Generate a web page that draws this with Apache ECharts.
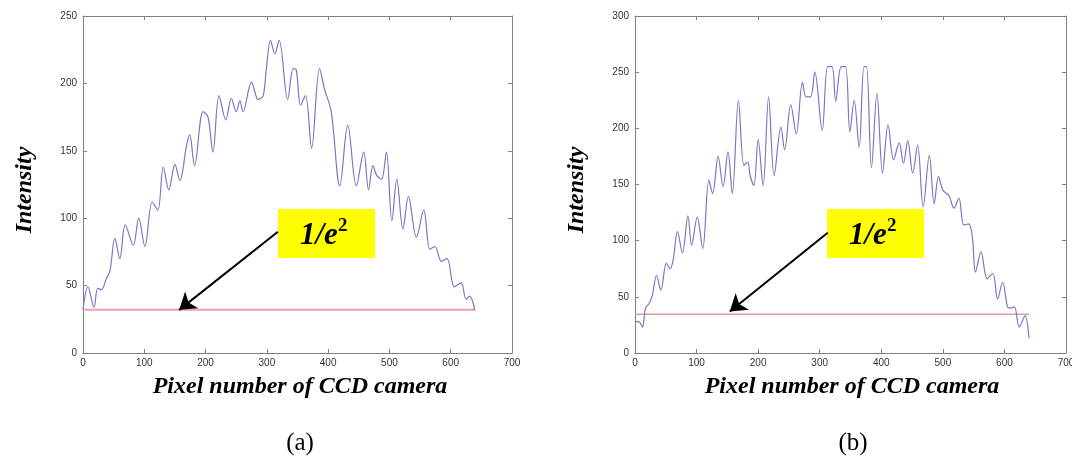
<!DOCTYPE html>
<html>
<head>
<meta charset="utf-8">
<script src="https://cdn.jsdelivr.net/npm/echarts@6/dist/echarts.min.js"></script>
<style>
html, body { margin: 0; padding: 0; background: #fff; }
#chart { width: 1072px; height: 464px; }
</style>
</head>
<body>
<div id="chart"></div>
<script>
// (a) intensity profile
const leftX = [0, 8, 18, 24, 30, 38, 44, 52, 60, 69, 82, 91, 101, 113, 122, 131, 140, 150, 158, 169,
  174, 182, 196, 204, 212, 222, 233, 242, 250, 256, 261, 275, 286, 294, 299, 306, 313, 320, 334, 343,
  348, 355, 363, 373, 386, 394, 405, 419, 432, 446, 458, 466, 473, 479, 487, 495, 504, 512, 522, 531,
  544, 556, 566, 574, 585, 594, 606, 617, 625, 631, 636, 639]
const leftY = [32, 49, 34, 48, 47, 55, 61, 85, 70, 95, 80, 100, 79, 112, 106, 138, 121, 140, 128, 154,
  162, 139, 179, 175, 149, 191, 173, 189, 179, 187, 179, 201, 188, 191, 210, 232, 222, 232, 188, 211,
  210, 184, 191, 152, 211, 196, 179, 124, 169, 124, 149, 121, 139, 132, 129, 149, 98, 129, 92, 116,
  86, 106, 77, 79, 68, 70, 49, 52, 40, 42, 38, 32]

// (b) intensity profile
const rightX = [0, 6, 12, 17, 23, 28, 35, 42, 51, 57, 62, 69, 77, 86, 92, 101, 110, 120, 126, 135,
  143, 151, 158, 168, 177, 183, 187, 193, 200, 208, 217, 226, 237, 243, 253, 262, 272, 278, 285, 292,
  304, 313, 320, 326, 335, 342, 349, 356, 364, 372, 376, 384, 393, 402, 411, 420, 429, 436, 443, 451,
  459, 468, 478, 486, 493, 500, 510, 518, 526, 534, 542, 548, 553, 562, 572, 581, 589, 597, 605, 609,
  616, 624, 632, 634, 640]
const rightY = [28, 28, 23, 40, 44, 51, 69, 56, 80, 75, 83, 108, 89, 122, 96, 121, 93, 154, 142, 175,
  148, 179, 142, 225, 167, 170, 158, 149, 190, 149, 228, 158, 201, 181, 221, 195, 241, 228, 228, 250,
  198, 255, 255, 224, 255, 255, 197, 225, 183, 255, 255, 165, 231, 160, 203, 172, 187, 169, 189, 160,
  185, 130, 176, 133, 157, 145, 140, 129, 138, 114, 115, 103, 72, 90, 66, 71, 48, 63, 41, 40,
  41, 23, 32, 33, 13]

// 1/e^2 levels and their span
const leftLevel = 32
const rightLevel = 34.5
const levelSpan = [0, 640]

// annotation arrows: [tail, head] in data units
const leftArrow = [[318, 90], [157, 32]]
const rightArrow = [[313, 107], [154, 37]]

const xTicks = { min: 0, max: 700, interval: 100 }
const leftTicks = { min: 0, max: 250, interval: 50 }
const rightTicks = { min: 0, max: 300, interval: 50 }

const chart = echarts.init(document.getElementById('chart'))

const axisColor = '#808080'
const labelStyle = { color: '#333', fontSize: 10, fontFamily: 'Liberation Sans' }
const serif = '"Liberation Serif", "DejaVu Serif", serif'

const makeX = (grid, ticks, top) => ({
  type: 'value',
  gridIndex: grid,
  position: top ? 'top' : 'bottom',
  ...ticks,
  axisLine: { show: true, onZero: false, lineStyle: { color: axisColor } },
  axisTick: { show: true, inside: true, length: 4, lineStyle: { color: axisColor } },
  axisLabel: { show: !top, margin: 5, ...labelStyle },
  splitLine: { show: false },
})

const makeY = (grid, ticks, right) => ({
  type: 'value',
  gridIndex: grid,
  position: right ? 'right' : 'left',
  ...ticks,
  axisLine: { show: true, onZero: false, lineStyle: { color: axisColor } },
  axisTick: { show: true, inside: true, length: 4, lineStyle: { color: axisColor } },
  axisLabel: { show: !right, margin: 6, ...labelStyle },
  splitLine: { show: false },
})

const zip = (xs, ys) => xs.map((x, i) => [x, ys[i]])

const arrowLine = (pts) => ({
  silent: true,
  symbol: ['none', 'arrow'],
  symbolSize: 16,
  lineStyle: { color: '#000', width: 2, type: 'solid' },
  label: { show: false },
  data: [[{ coord: pts[0] }, { coord: pts[1] }]],
})

const titleText = (x, y, text, rotation) => ({
  type: 'text',
  x, y, rotation: rotation || 0,
  style: {
    text,
    font: 'italic bold 24px ' + serif,
    fill: '#000',
    align: 'center',
    verticalAlign: 'middle',
  },
})

const yellowBox = (left) => [
  { type: 'rect', shape: { x: left, y: 209, width: 97, height: 49 }, style: { fill: '#ffff00' } },
  { type: 'text', x: left + 22, y: 236, style: { text: '1/e', font: 'italic bold 31px ' + serif, fill: '#000', align: 'left', verticalAlign: 'middle' } },
  { type: 'text', x: left + 60, y: 226, style: { text: '2', font: 'bold 19px ' + serif, fill: '#000', align: 'left', verticalAlign: 'middle' } },
]

chart.setOption({
  animation: false,
  grid: [
    { left: 83, top: 16, width: 429, height: 337, outerBoundsMode: 'none' },
    { left: 635, top: 16, width: 431, height: 337, outerBoundsMode: 'none' },
  ],
  xAxis: [makeX(0, xTicks, false), makeX(0, xTicks, true), makeX(1, xTicks, false), makeX(1, xTicks, true)],
  yAxis: [makeY(0, leftTicks, false), makeY(0, leftTicks, true), makeY(1, rightTicks, false), makeY(1, rightTicks, true)],
  series: [
    {
      type: 'line',
      xAxisIndex: 0, yAxisIndex: 0,
      data: levelSpan.map((x) => [x, leftLevel]),
      symbol: 'none',
      lineStyle: { color: '#e7a3ab', width: 2 },
      markLine: arrowLine(leftArrow),
    },
    {
      type: 'line',
      xAxisIndex: 0, yAxisIndex: 0,
      data: zip(leftX, leftY),
      smooth: 0.35,
      symbol: 'none',
      lineStyle: { color: '#7878c4', width: 1.2 },
    },
    {
      type: 'line',
      xAxisIndex: 2, yAxisIndex: 2,
      data: levelSpan.map((x) => [x, rightLevel]),
      symbol: 'none',
      lineStyle: { color: '#d79aa4', width: 1.5 },
      markLine: arrowLine(rightArrow),
    },
    {
      type: 'line',
      xAxisIndex: 2, yAxisIndex: 2,
      data: zip(rightX, rightY),
      smooth: 0.35,
      symbol: 'none',
      lineStyle: { color: '#7878c4', width: 1.2 },
    },
  ],
  graphic: [
    titleText(25, 190, 'Intensity', Math.PI / 2),
    titleText(577, 190, 'Intensity', Math.PI / 2),
    titleText(300, 387, 'Pixel number of CCD camera'),
    titleText(852, 387, 'Pixel number of CCD camera'),
    ...yellowBox(278),
    ...yellowBox(827),
    { type: 'text', x: 300, y: 443, style: { text: '(a)', font: '25px ' + serif, fill: '#000', align: 'center', verticalAlign: 'middle' } },
    { type: 'text', x: 853, y: 443, style: { text: '(b)', font: '25px ' + serif, fill: '#000', align: 'center', verticalAlign: 'middle' } },
  ],
})
</script>
</body>
</html>
